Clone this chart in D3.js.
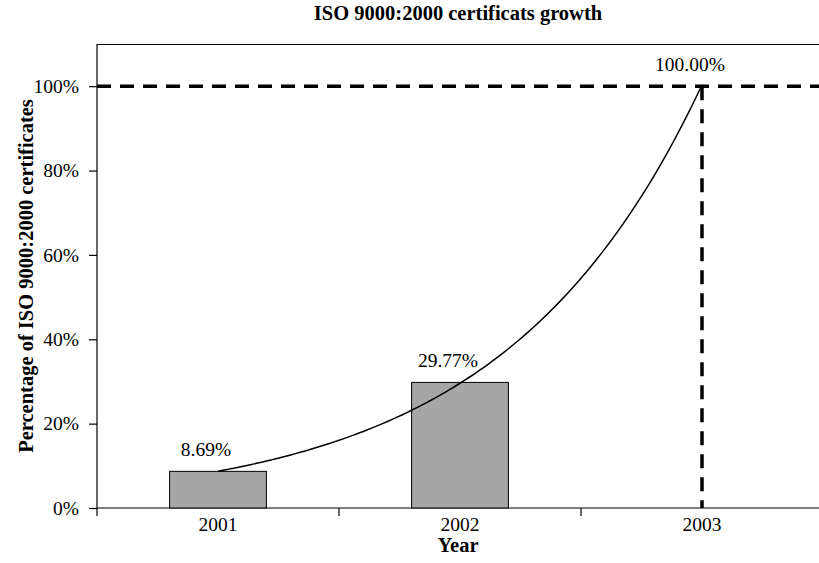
<!DOCTYPE html>
<html>
<head>
<meta charset="utf-8">
<script src="https://cdn.jsdelivr.net/npm/d3@7"></script>
<style>
  html, body { margin: 0; padding: 0; background: #fff; }
  svg { display: block; font-family: "Liberation Serif", "Times New Roman", serif; }
</style>
</head>
<body>
<svg id="chart" width="819" height="563"></svg>
<script>
// Share of ISO 9000:2000 certificates reached by year
const years = ["2001", "2002", "2003"];
const shares = [0.0869, 0.2977, 1.0];
const shareLabels = ["8.69%", "29.77%", "100.00%"];
const yTicks = [0, 0.2, 0.4, 0.6, 0.8, 1.0];

const svg = d3.select("#chart");
const plot = { left: 97, right: 823, top: 44, bottom: 508 };
const FS = 19.5;

const x = d3.scaleBand().domain(years).range([plot.left, plot.right]).padding(0);
const y = d3.scaleLinear().domain([0, 1.1]).range([plot.bottom, plot.top]);
const barW = x.bandwidth() * 0.4;
const cx = d => x(d) + x.bandwidth() / 2;

// Title
svg.append("text")
  .attr("x", 458).attr("y", 20)
  .attr("text-anchor", "middle")
  .attr("font-size", 20.5).attr("font-weight", "bold")
  .text("ISO 9000:2000 certificats growth");

// Frame: top border line
svg.append("line")
  .attr("x1", plot.left).attr("x2", plot.right)
  .attr("y1", plot.top + 0.5).attr("y2", plot.top + 0.5)
  .attr("stroke", "#000").attr("stroke-width", 1.2);

// Y axis
const yAxis = svg.append("g")
  .attr("transform", `translate(${plot.left},0)`)
  .call(d3.axisLeft(y).tickValues(yTicks).tickFormat(d3.format(".0%")).tickSize(8).tickPadding(10));
yAxis.select(".domain").attr("d", `M0,${plot.top}V${plot.bottom + 8}`).attr("stroke-width", 1.2);
yAxis.selectAll(".tick line").attr("stroke-width", 1.2);
yAxis.selectAll(".tick text").attr("font-size", FS).attr("font-family", "Liberation Serif, Times New Roman, serif").attr("fill", "#000");

// X axis: ticks at category boundaries, labels centred in each category
const xAxis = svg.append("g").attr("transform", `translate(0,${plot.bottom})`);
xAxis.append("line")
  .attr("x1", plot.left).attr("x2", plot.right)
  .attr("stroke", "#000").attr("stroke-width", 1.2);
xAxis.selectAll("line.tick").data(years.slice(1))
  .join("line").attr("class", "tick")
  .attr("x1", d => x(d)).attr("x2", d => x(d))
  .attr("y1", 0).attr("y2", 8)
  .attr("stroke", "#000").attr("stroke-width", 1.2);
xAxis.selectAll("text").data(years)
  .join("text")
  .attr("x", d => cx(d)).attr("y", 23)
  .attr("text-anchor", "middle").attr("font-size", FS)
  .text(d => d);

// Axis titles
svg.append("text")
  .attr("x", 458).attr("y", 552)
  .attr("text-anchor", "middle")
  .attr("font-size", 20.5).attr("font-weight", "bold")
  .text("Year");
svg.append("text")
  .attr("transform", `translate(33,276) rotate(-90)`)
  .attr("text-anchor", "middle")
  .attr("font-size", 20.5).attr("font-weight", "bold")
  .text("Percentage of ISO 9000:2000 certificates");

// Bars for the first two years
const barData = years.slice(0, 2).map((yr, i) => ({ yr, v: shares[i] }));
svg.selectAll("rect.bar").data(barData)
  .join("rect").attr("class", "bar")
  .attr("x", d => cx(d.yr) - barW / 2)
  .attr("y", d => y(d.v))
  .attr("width", barW)
  .attr("height", d => y(0) - y(d.v))
  .attr("fill", "#a6a6a6")
  .attr("stroke", "#000").attr("stroke-width", 1);

// Exponential trend fitted to the yearly shares (least squares on log values)
const idx = years.map((_, i) => i);
const lnV = shares.map(v => Math.log(v));
const mx = d3.mean(idx), my = d3.mean(lnV);
const b = d3.sum(idx, i => (i - mx) * (lnV[i] - my)) / d3.sum(idx, i => (i - mx) * (i - mx));
const a = my - b * mx;
const xi = d3.scaleLinear().domain([0, years.length - 1]).range([cx(years[0]), cx(years[years.length - 1])]);
const trend = d3.range(0, 2.0001, 0.02).map(t => [xi(t), y(Math.exp(a + b * t))]);
svg.append("path")
  .datum(trend)
  .attr("d", d3.line().curve(d3.curveMonotoneX))
  .attr("fill", "none").attr("stroke", "#000").attr("stroke-width", 1.5);

// Dashed reference lines at the final year's 100% mark
const last = years[years.length - 1];
svg.append("line")
  .attr("x1", plot.left).attr("x2", plot.right)
  .attr("y1", y(1)).attr("y2", y(1))
  .attr("stroke", "#000").attr("stroke-width", 3.5).attr("stroke-dasharray", "14,9");
svg.append("line")
  .attr("x1", cx(last)).attr("x2", cx(last))
  .attr("y1", y(1)).attr("y2", y(0))
  .attr("stroke", "#000").attr("stroke-width", 3.5).attr("stroke-dasharray", "14,9");

// Value labels, set slightly left of each mark's centre
svg.selectAll("text.val").data(years)
  .join("text").attr("class", "val")
  .attr("x", d => cx(d) - 12)
  .attr("y", (d, i) => y(shares[i]) - 15)
  .attr("text-anchor", "middle").attr("font-size", FS)
  .text((d, i) => shareLabels[i]);
</script>
</body>
</html>
